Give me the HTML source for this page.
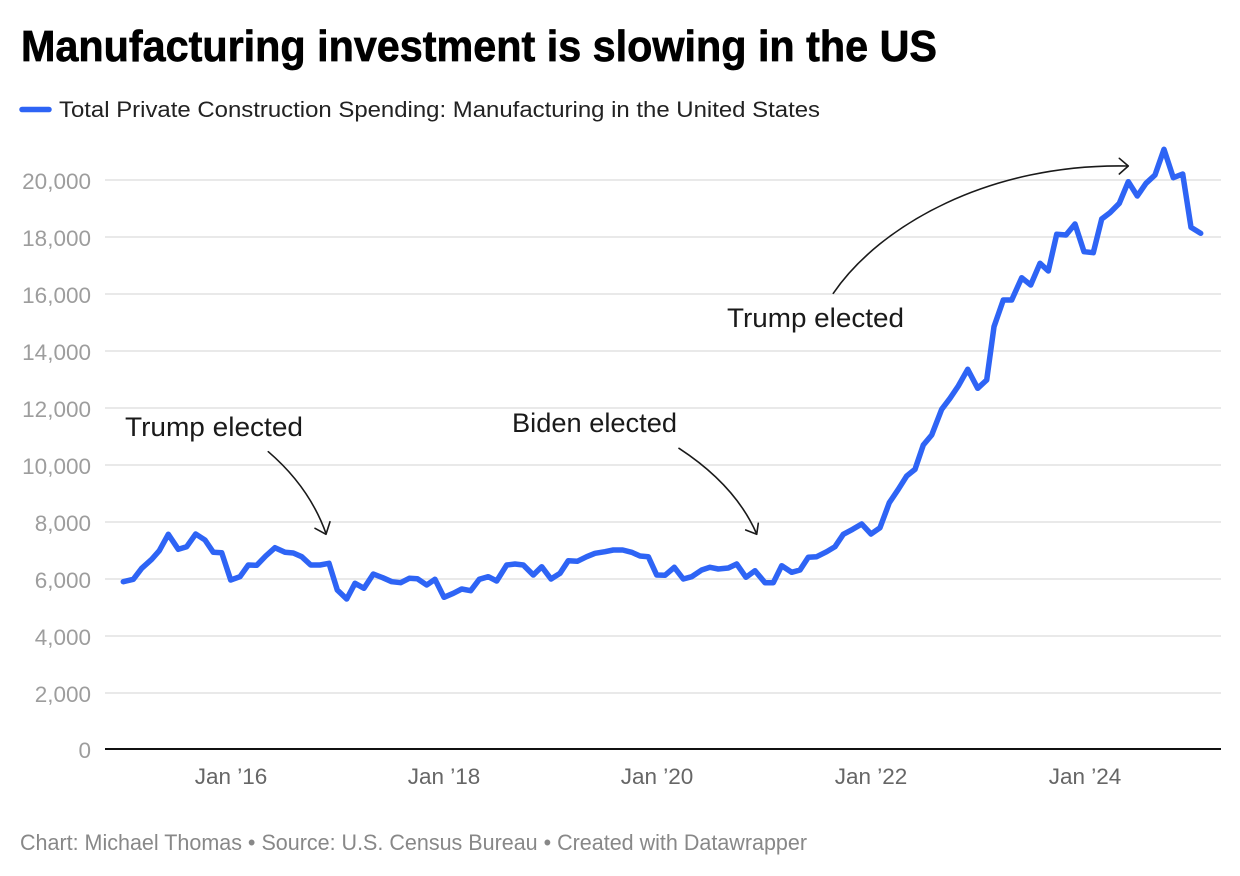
<!DOCTYPE html>
<html>
<head>
<meta charset="utf-8">
<style>
  html,body{margin:0;padding:0;background:#fff;}
  svg{display:block;}
  text{font-family:"Liberation Sans", Arial, sans-serif;}
</style>
</head>
<body>
<svg width="1240" height="876" viewBox="0 0 1240 876" xmlns="http://www.w3.org/2000/svg">
  <rect width="1240" height="876" fill="#fff"/>
  <!-- Title -->
  <text x="21" y="61" font-size="44" font-weight="bold" fill="#000" stroke="#000" stroke-width="0.7" textLength="916" lengthAdjust="spacingAndGlyphs">Manufacturing investment is slowing in the US</text>
  <!-- Legend -->
  <line x1="22" y1="109.5" x2="49" y2="109.5" stroke="#2e64f5" stroke-width="5.5" stroke-linecap="round"/>
  <text x="59" y="117" font-size="22" fill="#222" textLength="761" lengthAdjust="spacingAndGlyphs">Total Private Construction Spending: Manufacturing in the United States</text>

  <!-- Gridlines -->
  <g stroke="#e2e2e2" stroke-width="1.5">
    <line x1="105" y1="180" x2="1221" y2="180"/>
    <line x1="105" y1="237" x2="1221" y2="237"/>
    <line x1="105" y1="294" x2="1221" y2="294"/>
    <line x1="105" y1="351" x2="1221" y2="351"/>
    <line x1="105" y1="408" x2="1221" y2="408"/>
    <line x1="105" y1="465" x2="1221" y2="465"/>
    <line x1="105" y1="522" x2="1221" y2="522"/>
    <line x1="105" y1="579" x2="1221" y2="579"/>
    <line x1="105" y1="636" x2="1221" y2="636"/>
    <line x1="105" y1="693" x2="1221" y2="693"/>
  </g>
  <line x1="105" y1="749" x2="1221" y2="749" stroke="#111" stroke-width="2"/>

  <!-- Y labels -->
  <g font-size="22.5" fill="#9d9d9d" text-anchor="end">
    <text x="91" y="189">20,000</text>
    <text x="91" y="246">18,000</text>
    <text x="91" y="303">16,000</text>
    <text x="91" y="360">14,000</text>
    <text x="91" y="417">12,000</text>
    <text x="91" y="474">10,000</text>
    <text x="91" y="531">8,000</text>
    <text x="91" y="588">6,000</text>
    <text x="91" y="645">4,000</text>
    <text x="91" y="702">2,000</text>
    <text x="91" y="758">0</text>
  </g>

  <!-- X labels -->
  <g font-size="22.5" fill="#666" text-anchor="middle">
    <text x="231" y="784">Jan ’16</text>
    <text x="444" y="784">Jan ’18</text>
    <text x="657" y="784">Jan ’20</text>
    <text x="871" y="784">Jan ’22</text>
    <text x="1085" y="784">Jan ’24</text>
  </g>

  <!-- Data line -->
  <polyline fill="none" stroke="#2e64f5" stroke-width="5.5" stroke-linejoin="round" stroke-linecap="round" points="
123.3,581.7 133.3,579.3 141.7,568.3 151.7,559.3 159.3,550.7 168.3,534.3 178.3,549.3 186.7,546.7 195.7,534 205,540
213.3,552.3 221.7,552.7 230.7,580 240,576.7 248.3,565 256.7,565.3 265.7,556 275,547.7 285,552.3 293.3,553
301.7,556.7 310.7,565 320,565 329,563.3 337.3,590 346.7,599 355,583.3 364,588.3 373.3,574 382.7,577.7
391.7,581.7 400.7,582.7 409.3,578.3 417.3,578.7 426.7,585 435,579.3 444,597.3 453.3,593.3 461.7,589 470.7,590.7
479.3,579.3 488.3,576.7 496.7,581 506.7,565 515,564 523.3,565 533.3,575 541.7,566.7 551,579 560,573.3
568.3,560.7 577.3,561.3 586.7,556.7 595,553.3 605,551.7 613.3,550 622.7,550 631.7,552.3 640,556 648.3,556.7
656.7,575 665,575.3 674.3,567.3 683.3,579 691.7,576.7 701.7,570 710,567.3 718.3,569 728.3,568 736.7,564
746,577.3 755,570.7 765,582.7 773.3,582.7 781.7,565.7 791.7,572.3 800,570 808.3,557.3 816.7,556.7 826.7,551.7
835,546.7 843.3,534.3 852.7,529.3 861.7,524 871,534 880,527.7 889.3,502.7 898.3,489.3 906.7,476 915,469.3
923.3,445 931.7,435 941.7,409.3 950,398.3 958.3,386 967.7,369.3 977.7,388.3 986.7,380 994,326.7 1003.3,300
1011.7,300 1021.7,277.7 1030.7,285 1040,263.3 1048.3,271 1056.7,234.3 1066,235 1075,224 1084,251.7 1093.3,252.7
1101.7,219 1110,212.7 1119.3,203.3 1128.3,181.7 1137.3,196 1146,183.3 1155,175 1164,149.3 1173.3,177.7 1182.7,174
1191,227.3 1200.7,233.3"/>

  <!-- Annotations -->
  <g font-size="27" fill="#1a1a1a">
    <text x="125" y="436" textLength="178" lengthAdjust="spacingAndGlyphs">Trump elected</text>
    <text x="512" y="432" textLength="165" lengthAdjust="spacingAndGlyphs">Biden elected</text>
    <text x="727" y="327" textLength="177" lengthAdjust="spacingAndGlyphs">Trump elected</text>
  </g>
  <g fill="none" stroke="#1a1a1a" stroke-width="1.6" stroke-linecap="round" stroke-linejoin="round">
    <path d="M268.3,451.7 Q309.4,487 326,533.5"/>
    <path d="M315,528.3 L326,534.3 L330,521.7"/>
    <path d="M679,448.3 Q735.6,485.3 756.7,534"/>
    <path d="M745.7,530 L756.7,534.3 L758.3,523.3"/>
    <path d="M833.3,293.3 C880,225 990,163 1128,166"/>
    <path d="M1119.3,158.3 L1128.3,166 L1119.3,174"/>
  </g>

  <!-- Footer -->
  <text x="20" y="850" font-size="22" fill="#888" textLength="787" lengthAdjust="spacingAndGlyphs">Chart: Michael Thomas • Source: U.S. Census Bureau • Created with Datawrapper</text>
</svg>
</body>
</html>
